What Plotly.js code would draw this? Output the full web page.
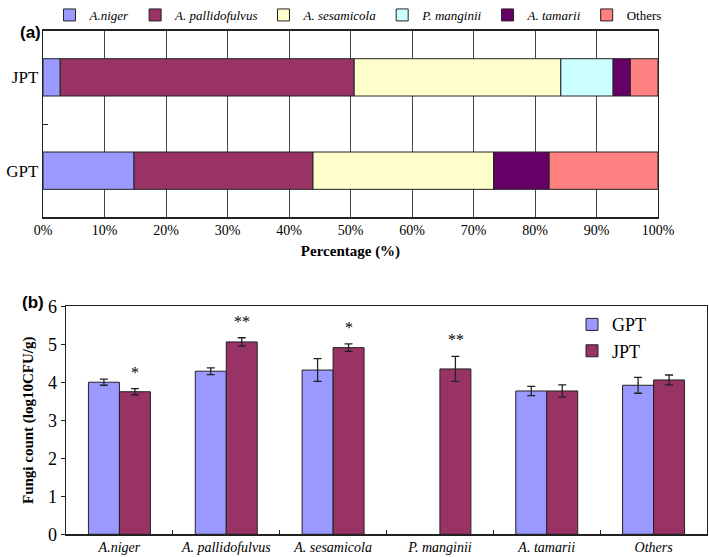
<!DOCTYPE html>
<html>
<head>
<meta charset="utf-8">
<script src="https://cdn.plot.ly/plotly-3.0.1.min.js"></script>
<style>html,body{margin:0;padding:0;background:#fff;}#chart{width:709px;height:557px;}</style>
</head>
<body>
<div id="chart"></div>
<script>
// ---- Data ----
const species = ['A.niger', 'A. pallidofulvus', 'A. sesamicola', 'P. manginii', 'A. tamarii', 'Others'];
const samples = ['JPT', 'GPT'];
// Panel (a): percentage composition
const pctJPT = [2.8, 47.8, 33.6, 8.5, 2.8, 4.5];
const pctGPT = [14.8, 29.1, 29.4, 0, 9.0, 17.7];
// Panel (b): fungi count (log10 CFU/g)
const gptMean = [4.00, 4.29, 4.32, null, 3.77, 3.92];
const gptErr  = [0.08, 0.09, 0.30, null, 0.12, 0.21];
const jptMean = [3.75, 5.06, 4.91, 4.35, 3.77, 4.06];
const jptErr  = [0.08, 0.11, 0.10, 0.33, 0.16, 0.13];
const sig     = ['*', '**', '*', '**', '', ''];
const pctTicks = [0, 10, 20, 30, 40, 50, 60, 70, 80, 90, 100];

// ---- Styles ----
const colors = ['#9999FF', '#993366', '#FFFFCC', '#CCFFFF', '#660066', '#FF8080'];
const edge = '#222222';
const serif = 'Liberation Serif';
const W = 709, H = 557;

const traces = [];
// stacked horizontal bars (panel a) built via cumulative base
const baseJ = [], baseG = [];
let cj = 0, cg = 0;
species.forEach((s, i) => {
  baseJ.push(cj); baseG.push(cg);
  cj += pctJPT[i]; cg += pctGPT[i];
});
species.forEach((s, i) => {
  traces.push({
    type: 'bar', orientation: 'h',
    name: s === 'Others' ? s : '<i>' + s + '</i>',
    y: samples,
    x: [pctJPT[i], pctGPT[i]],
    base: [baseJ[i], baseG[i]],
    offsetgroup: 'a', width: 0.4, offset: -0.2,
    marker: {color: colors[i], line: {color: edge, width: 1}},
    xaxis: 'x', yaxis: 'y', legend: 'legend',
    hoverinfo: 'x+name'
  });
});
// grouped bars (panel b)
traces.push({
  type: 'bar', name: 'GPT', x: species, y: gptMean,
  error_y: {type: 'data', array: gptErr, visible: true, color: edge, thickness: 1.3, width: 4},
  marker: {color: colors[0], line: {color: edge, width: 1}},
  xaxis: 'x2', yaxis: 'y2', legend: 'legend2'
});
traces.push({
  type: 'bar', name: 'JPT', x: species, y: jptMean,
  error_y: {type: 'data', array: jptErr, visible: true, color: edge, thickness: 1.3, width: 4},
  marker: {color: colors[1], line: {color: edge, width: 1}},
  xaxis: 'x2', yaxis: 'y2', legend: 'legend2'
});

const annotations = [
  {text: '<b>(a)</b>', xref: 'paper', yref: 'paper', x: 18 / W, y: 1 - 14 / H, showarrow: false,
   font: {family: 'Liberation Sans', size: 17, color: '#000'}},
  {text: '<b>(b)</b>', xref: 'paper', yref: 'paper', x: 20 / W, y: 1 - 299 / H, showarrow: false,
   font: {family: 'Liberation Sans', size: 17, color: '#000'}}
];
sig.forEach((s, i) => {
  if (!s) return;
  annotations.push({
    text: s, xref: 'x2', yref: 'y2', x: species[i], y: jptMean[i] + jptErr[i],
    xshift: 16, yshift: 6, yanchor: 'bottom', showarrow: false,
    font: {family: serif, size: 16, color: '#000'}
  });
});

const layout = {
  width: W, height: H,
  margin: {l: 0, r: 0, t: 0, b: 0},
  font: {family: serif, color: '#000'},
  paper_bgcolor: '#fff', plot_bgcolor: '#fff',
  barmode: 'group', bargap: 0.42, bargroupgap: 0,
  showlegend: true,
  legend: {orientation: 'h', x: 0.505, xanchor: 'center', y: 1 - 8 / H, yanchor: 'middle',
           font: {family: serif, size: 13, color: '#000'}, bgcolor: 'rgba(0,0,0,0)', traceorder: 'normal'},
  legend2: {orientation: 'v', x: 572 / W, xanchor: 'left', y: 1 - 303 / H, yanchor: 'top',
            font: {family: serif, size: 18, color: '#000'}, bgcolor: 'rgba(0,0,0,0)'},
  xaxis: {
    domain: [43 / W, 658 / W], anchor: 'y', range: [0, 100],
    tickmode: 'array', tickvals: pctTicks, ticktext: pctTicks.map(v => v + '%'),
    showgrid: true, gridcolor: '#444', gridwidth: 1, zeroline: false,
    showline: true, mirror: true, linecolor: edge, linewidth: 1.3, ticks: '',
    tickfont: {family: serif, size: 14, color: '#000'},
    title: {text: '<b>Percentage (%)</b>', font: {family: serif, size: 15, color: '#000'}, standoff: 8},
    fixedrange: true
  },
  yaxis: {
    domain: [1 - 213 / H, 1 - 24 / H], anchor: 'x', type: 'category',
    categoryorder: 'array', categoryarray: ['GPT', 'JPT'], range: [-0.5, 1.5],
    tickson: 'boundaries', ticks: 'inside', ticklen: 5, tickcolor: edge,
    showgrid: false, showline: true, mirror: true, linecolor: edge, linewidth: 1.3,
    tickfont: {family: serif, size: 17, color: '#000'}, fixedrange: true
  },
  xaxis2: {
    domain: [66 / W, 707 / W], anchor: 'y2', type: 'category',
    tickson: 'boundaries', ticks: 'inside', ticklen: 4, tickcolor: edge,
    showgrid: false, showline: true, mirror: true, linecolor: edge, linewidth: 1.3,
    tickfont: {family: serif, size: 14, color: '#000', style: 'italic'}, fixedrange: true
  },
  yaxis2: {
    domain: [1 - 534 / H, 1 - 303 / H], anchor: 'x2', range: [0, 6], dtick: 1,
    ticks: 'outside', ticklen: 4, tickcolor: edge,
    showgrid: false, zeroline: false, showline: true, mirror: true, linecolor: edge, linewidth: 1.3,
    tickfont: {family: serif, size: 18, color: '#000'},
    title: {text: '<b>Fungi count (log10CFU/g)</b>', font: {family: serif, size: 15, color: '#000'}, standoff: 10},
    fixedrange: true
  },
  annotations: annotations
};

Plotly.newPlot('chart', traces, layout, {displayModeBar: false, staticPlot: true});
</script>
</body>
</html>
